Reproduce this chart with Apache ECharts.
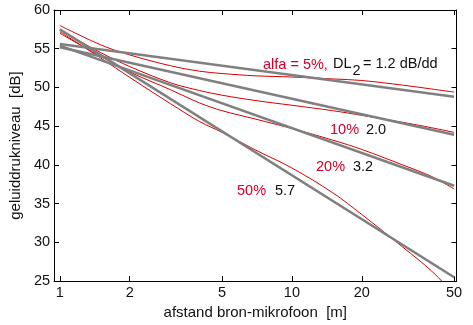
<!DOCTYPE html>
<html>
<head>
<meta charset="utf-8">
<script src="https://cdn.jsdelivr.net/npm/echarts@6/dist/echarts.min.js"></script>
<style>
html,body{margin:0;padding:0;background:#fff;}
#c{width:473px;height:325px;}
</style>
</head>
<body>
<div id="c"></div>
<script>
// distances (m) at which the curves were read
const distances = [1, 1.5, 2, 3, 4, 5, 7, 10, 15, 20, 30, 40, 50];
// red curves (absorption alfa)
const red5  = [58.0, 55.5, 54.2, 52.8, 52.1, 51.8, 51.5, 51.35, 51.1, 50.9, 50.3, 49.8, 49.4];
const red10 = [57.4, 54.5, 52.7, 50.6, 49.6, 49.0, 48.3, 47.7, 47.0, 46.4, 45.5, 44.8, 44.2];
const red20 = [57.0, 54.0, 52.0, 49.7, 48.0, 47.0, 45.9, 44.7, 43.2, 42.0, 40.0, 38.5, 36.9];
const red50 = [57.2, 53.8, 51.3, 47.9, 45.6, 44.2, 41.9, 39.6, 36.4, 33.6, 29.4, 26.3, 23.3];
// grey straight fits (DL2 per distance doubling), read at both ends
const greyDist = [1, 50];
const grey12 = [55.6, 48.8];
const grey20 = [55.2, 43.9];
const grey32 = [55.4, 37.3];
const grey57 = [57.5, 25.5];
// axis ticks
const xTicks = [1, 2, 5, 10, 20, 50];
const xRange = [0.9438, 51.2];
const yRange = [25, 60];
const yStep = 5;

const FONT = '"Liberation Sans", Arial, Helvetica, sans-serif';
const TXT = '#111';
const RED_LINE = '#d80000';
const RED_TXT = '#d0002a';
const GREY = '#808080';

const lg = v => Math.log10(v);
const pts = (xs, ys) => xs.map((x, i) => [lg(x), ys[i]]);
const tickPos = xTicks.map(lg);

const chart = echarts.init(document.getElementById('c'), null, {renderer: 'canvas'});

function redSeries(ys) {
  return {type: 'line', xAxisIndex: 0, yAxisIndex: 0, data: pts(distances, ys), smooth: 0.35,
    showSymbol: false, symbol: 'none', lineStyle: {color: RED_LINE, width: 1}, clip: true, z: 2, silent: true};
}
function greySeries(ys) {
  return {type: 'line', xAxisIndex: 0, yAxisIndex: 0, data: pts(greyDist, ys),
    showSymbol: false, symbol: 'none', lineStyle: {color: GREY, width: 2.6}, clip: true, z: 3, silent: true};
}

const txt = (x, y, text, color) => ({type: 'text', x: x, y: y, z: 10,
  style: {text: text, fill: color, font: '14.5px ' + FONT, verticalAlign: 'middle', align: 'left'}});

const option = {
  animation: false,
  backgroundColor: '#fff',
  grid: {left: 42, top: 10, width: 414.5, height: 275, show: false},
  xAxis: [
    {type: 'value', position: 'bottom', min: lg(xRange[0]), max: lg(xRange[1]),
      axisLine: {show: true, onZero: false, lineStyle: {color: '#000', width: 1}},
      axisTick: {show: true, inside: true, length: 5, customValues: tickPos, lineStyle: {color: '#000'}},
      axisLabel: {show: true, customValues: tickPos, margin: 4, color: TXT, fontSize: 14.5, fontFamily: FONT,
        formatter: v => String(Math.round(Math.pow(10, v)))},
      splitLine: {show: false},
      name: 'afstand bron-mikrofoon  [m]', nameLocation: 'middle', nameGap: 21,
      nameTextStyle: {color: TXT, fontSize: 15, fontFamily: FONT, verticalAlign: 'top'}},
    {type: 'value', position: 'top', min: lg(xRange[0]), max: lg(xRange[1]),
      axisLine: {show: true, onZero: false, lineStyle: {color: '#000', width: 1}},
      axisTick: {show: true, inside: true, length: 5, customValues: tickPos, lineStyle: {color: '#000'}},
      axisLabel: {show: false}, splitLine: {show: false}}
  ],
  yAxis: [
    {type: 'value', position: 'left', min: yRange[0], max: yRange[1], interval: yStep,
      axisLine: {show: true, onZero: false, lineStyle: {color: '#000', width: 1}},
      axisTick: {show: true, inside: true, length: 5, lineStyle: {color: '#000'}},
      axisLabel: {show: true, margin: 4, color: TXT, fontSize: 14.5, fontFamily: FONT},
      splitLine: {show: false},
      name: 'geluiddrukniveau  [dB]', nameLocation: 'middle', nameGap: 29,
      nameTextStyle: {color: TXT, fontSize: 15, fontFamily: FONT}},
    {type: 'value', position: 'right', min: yRange[0], max: yRange[1], interval: yStep,
      axisLine: {show: true, onZero: false, lineStyle: {color: '#000', width: 1}},
      axisTick: {show: true, inside: true, length: 5, lineStyle: {color: '#000'}},
      axisLabel: {show: false}, splitLine: {show: false}}
  ],
  series: [
    redSeries(red5), redSeries(red10), redSeries(red20), redSeries(red50),
    greySeries(grey12), greySeries(grey20), greySeries(grey32), greySeries(grey57)
  ],
  graphic: [
    txt(263, 65, 'alfa = 5%,', RED_TXT),
    txt(333, 64, 'DL', TXT),
    {type: 'text', x: 352.5, y: 71, z: 10, style: {text: '2', fill: TXT, font: '14.5px ' + FONT, verticalAlign: 'middle'}},
    txt(363, 64, '= 1.2 dB/dd', TXT),
    txt(330, 130, '10%', RED_TXT),
    txt(366, 130, '2.0', TXT),
    txt(316, 167, '20%', RED_TXT),
    txt(353, 167, '3.2', TXT),
    txt(237, 191, '50%', RED_TXT),
    txt(275, 191, '5.7', TXT)
  ]
};
chart.setOption(option);
</script>
</body>
</html>
